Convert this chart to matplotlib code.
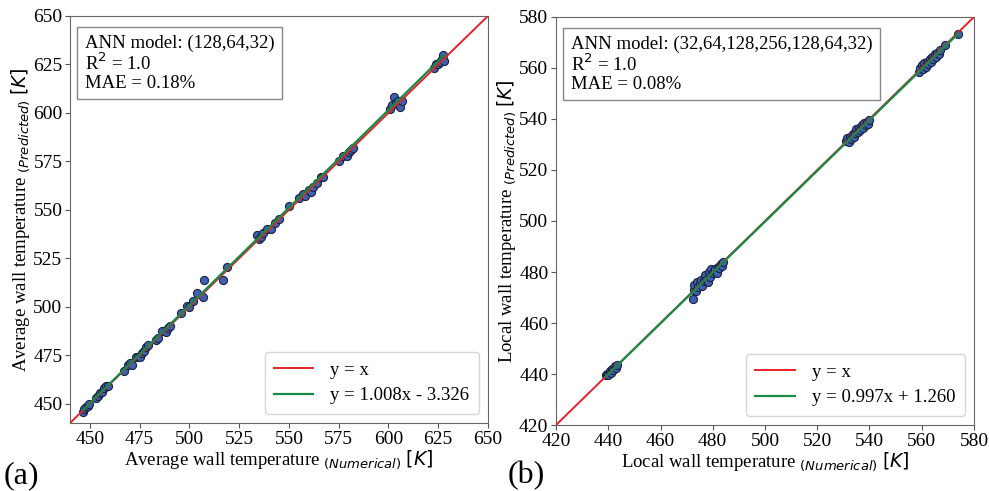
import numpy as np
import matplotlib
matplotlib.use('Agg')
import matplotlib.pyplot as plt

plt.rcParams['font.family'] = ['Liberation Serif', 'DejaVu Serif']
plt.rcParams['mathtext.fontset'] = 'dejavusans'

# (a) average wall temperature: numerical vs predicted
avg_num = [446.5, 447, 448, 449, 449.5, 453, 454, 455, 456, 457, 458, 459,
           467, 469, 470, 471, 473, 474, 475, 476, 477, 478, 479, 483, 484,
           486, 488, 489, 490, 496, 499, 500, 502, 504, 507, 507.5, 517, 519,
           534, 535, 536, 537, 539, 541, 543, 545, 550, 555, 557, 558, 560,
           561, 562, 564, 566, 567, 575, 577, 579, 580, 581, 582,
           601, 602, 603, 604, 605, 606, 607, 623, 624, 625, 626, 627, 627.5, 628]
avg_pred = [445.5, 447, 448, 449, 450, 453, 454, 455.5, 456, 458, 459, 459,
            467, 470, 471, 470, 474, 474, 474, 476, 477, 479, 480, 483, 484,
            487.5, 487, 489, 490, 497, 500.5, 500, 503, 507, 505, 514, 514, 520.5,
            537, 535, 536, 538, 540, 540, 543, 545, 552, 556, 558, 557, 560,
            559, 562, 564, 567, 567, 575, 578, 578, 580, 581, 582,
            602, 604, 608, 605, 606, 603, 606, 623, 625, 625, 626, 628, 630, 627]
avg_fit = (1.008, -3.326)

# (b) local wall temperature: numerical vs predicted
loc_num = [439, 439.5, 440, 440.5, 441, 441.5, 442, 442.5, 443, 443.5,
           472.5, 473, 473, 473.5, 474, 474.5, 475, 475.5, 476, 476.5, 477, 477.5,
           478, 478.5, 479, 479.5, 480, 480.5, 481, 481.5, 482, 482.5, 483, 483.5, 484,
           531, 531.5, 532, 532.5, 533, 533.5, 534, 534.5, 535, 535.5, 536, 536.5,
           537, 537.5, 538, 538.5, 539, 539.5, 540,
           559, 559.5, 560, 560.5, 561, 561.5, 562, 562.5, 563, 563.5, 564, 564.5,
           565, 565.5, 566, 566.5, 567, 569, 574]
loc_pred = [439.5, 440, 439.8, 441, 440.5, 442, 441.5, 443, 442.5, 443.5,
            469.5, 473, 475, 472.5, 476, 474, 475.5, 477, 474.5, 476.5, 479, 477,
            476, 480, 478, 481, 479.5, 480.5, 481, 479.5, 482, 481.5, 483, 482.5, 484,
            531.5, 532.5, 531, 533, 532, 534, 533, 534.5, 536, 535, 536.5, 535.5,
            537.5, 536.5, 538.5, 537.5, 539, 538, 539.5,
            558.5, 560, 561, 559.5, 562, 560.5, 562.5, 561.5, 563.5, 562.5, 564.5, 563.5,
            565.5, 564.5, 566, 565.5, 567, 569, 573.5]
loc_fit = (0.997, 1.260)

panels = [
    dict(x=avg_num, y=avg_pred, fit=avg_fit, lim=(440, 650), step=25,
         name='Average wall temperature', model='(128,64,32)', mae='0.18%',
         pos=[0.0708, 0.1385, 0.4226, 0.829], tag='(a)', tagx=0.004),
    dict(x=loc_num, y=loc_pred, fit=loc_fit, lim=(420, 580), step=20,
         name='Local wall temperature', model='(32,64,128,256,128,64,32)', mae='0.08%',
         pos=[0.5622, 0.1344, 0.4226, 0.831], tag='(b)', tagx=0.513),
]

fig = plt.figure(figsize=(9.89, 4.91), dpi=100)

for p in panels:
    ax = fig.add_axes(p['pos'])
    lo, hi = p['lim']
    x = np.array(p['x'])
    y = np.array(p['y'])
    ax.scatter(x, y, s=34, color='#3f5fb0', edgecolors='#1a2440', linewidths=0.8, zorder=2)
    ax.plot([lo, hi], [lo, hi], color='#e8202a', lw=1.4, label='y = x', zorder=3)
    a, b = p['fit']
    xs = np.array([x.min(), x.max()])
    sign = '-' if b < 0 else '+'
    ax.plot(xs, a * xs + b, color='#178a45', lw=1.6,
            label='y = {:.3f}x {} {:.3f}'.format(a, sign, abs(b)), zorder=3)
    ax.set_xlim(lo, hi)
    ax.set_ylim(lo, hi)
    first = lo + (p['step'] - lo % p['step']) % p['step']
    ax.set_xticks(np.arange(first, hi + 1, p['step']))
    ax.set_yticks(np.arange(first, hi + 1, p['step']))
    ax.tick_params(labelsize=14, color='#555555', pad=2)
    for s in ax.spines.values():
        s.set_color('#666666')
    ax.set_xlabel(p['name'] + r' $_{(Numerical)}$ $[K]$', fontsize=13.5, labelpad=1)
    ax.set_ylabel(p['name'] + r' $_{(Predicted)}$ $[K]$', fontsize=13.5, labelpad=1)
    ax.text(0.035, 0.955, 'ANN model: ' + p['model'] + '\nR$^2$ = 1.0\nMAE = ' + p['mae'],
            transform=ax.transAxes, fontsize=13.5, va='top', ha='left', linespacing=1.05,
            bbox=dict(boxstyle='square,pad=0.4', fc='white', ec='#888888', lw=1))
    ax.legend(loc='lower right', fontsize=13.5, handlelength=2.1, borderpad=0.5,
              labelspacing=0.45, handletextpad=0.9)
    fig.text(p['tagx'], 0.015, p['tag'], fontsize=23)

fig.savefig('out.png', dpi=100)
